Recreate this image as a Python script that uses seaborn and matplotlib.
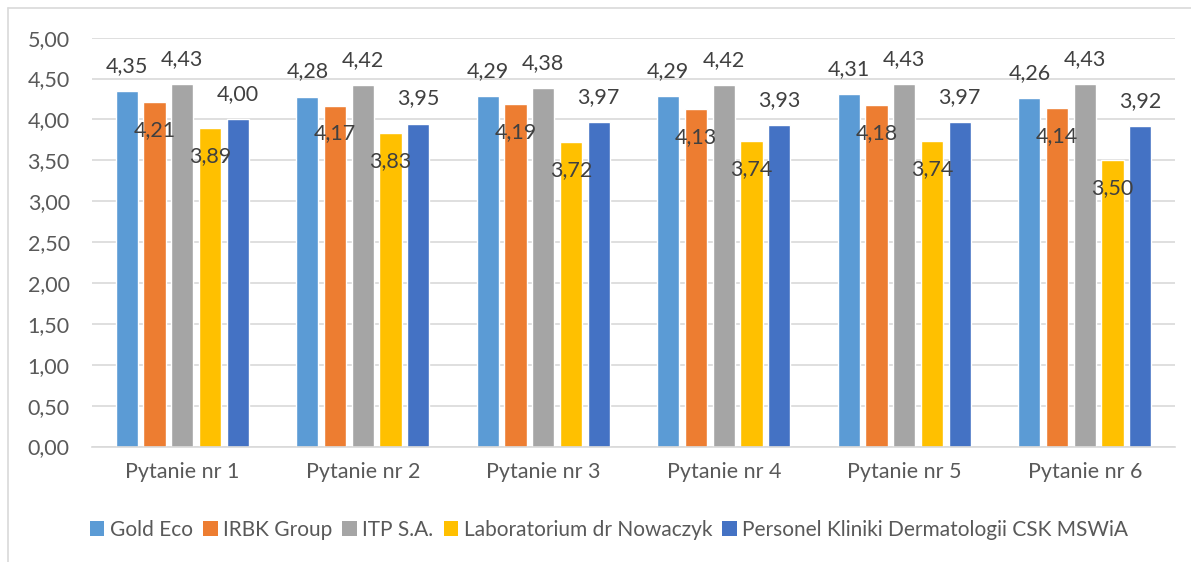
import matplotlib
matplotlib.use("Agg")
import matplotlib.pyplot as plt
from matplotlib.lines import Line2D
from matplotlib.patches import Patch
import seaborn as sns
import pandas as pd

questions = ["Pytanie nr 1", "Pytanie nr 2", "Pytanie nr 3", "Pytanie nr 4", "Pytanie nr 5", "Pytanie nr 6"]
series = ["Gold Eco", "IRBK Group", "ITP S.A.", "Laboratorium dr Nowaczyk", "Personel Kliniki Dermatologii CSK MSWiA"]
gold_eco = [4.35, 4.28, 4.29, 4.29, 4.31, 4.26]
irbk = [4.21, 4.17, 4.19, 4.13, 4.18, 4.14]
itp = [4.43, 4.42, 4.38, 4.42, 4.43, 4.43]
lab = [3.89, 3.83, 3.72, 3.74, 3.74, 3.50]
personel = [4.00, 3.95, 3.97, 3.93, 3.97, 3.92]
colors = ["#5B9BD5", "#ED7D31", "#A5A5A5", "#FFC000", "#4472C4"]
yticks = [0, 0.5, 1, 1.5, 2, 2.5, 3, 3.5, 4, 4.5, 5]

values = [gold_eco, irbk, itp, lab, personel]
rows = []
for s, vals in zip(series, values):
    for q, v in zip(questions, vals):
        rows.append({"q": q, "s": s, "v": v})
df = pd.DataFrame(rows)

sns.set_theme(style="white")
plt.rcParams["font.family"] = ["Lato", "DejaVu Sans"]

fig = plt.figure(figsize=(11.91, 5.62), dpi=100)
ax = fig.add_axes([92 / 1191, 1 - 446.5 / 562, (1175 - 92) / 1191, (446.5 - 37.7) / 562])

sns.barplot(data=df, x="q", y="v", hue="s", order=questions, hue_order=series,
            palette=colors, width=0.767, gap=0.2, ax=ax, legend=False,
            errorbar=None, saturation=1)

ax.set_ylim(0, 5)
ax.set_xlim(-0.5, 5.5)
ax.set_yticks(yticks)
ax.set_yticklabels([f"{t:.2f}".replace(".", ",") for t in yticks])
ax.set_xlabel("")
ax.set_ylabel("")
ax.yaxis.grid(True, color="#D9D9D9", linewidth=1.2)
ax.set_axisbelow(True)
for sp in ["top", "right", "left"]:
    ax.spines[sp].set_visible(False)
ax.spines["bottom"].set_color("#D9D9D9")
ax.spines["bottom"].set_linewidth(1.2)
ax.tick_params(axis="both", length=0, labelsize=15.5, labelcolor="#595959")
ax.tick_params(axis="y", pad=16)
ax.tick_params(axis="x", pad=11)

# data labels
for i, cont in enumerate(ax.containers):
    vals = values[i]
    for bar, v in zip(cont, vals):
        cx = bar.get_x() + bar.get_width() / 2
        off = 25 if i in (0, 2, 4) else -28
        ax.annotate(f"{v:.2f}".replace(".", ","), (cx, v), xytext=(0, off),
                    textcoords="offset pixels", ha="center", va="center",
                    fontsize=15.5, color="#404040", zorder=5)

handles = [Patch(facecolor=c, edgecolor="none") for c in colors]
fig.legend(handles, series, loc="center", bbox_to_anchor=(609 / 1191, 1 - 530 / 562),
           ncol=5, frameon=False, fontsize=15, labelcolor="#595959",
           handlelength=0.7, handleheight=0.7, handletextpad=0.25, columnspacing=0.5)

# chart border
fig.add_artist(Line2D([8 / 1191, 8 / 1191], [0, 1 - 8 / 562], color="#D9D9D9", linewidth=1.2, transform=fig.transFigure))
fig.add_artist(Line2D([8 / 1191, 1], [1 - 8 / 562, 1 - 8 / 562], color="#D9D9D9", linewidth=1.2, transform=fig.transFigure))

fig.savefig("out.png", dpi=100)
